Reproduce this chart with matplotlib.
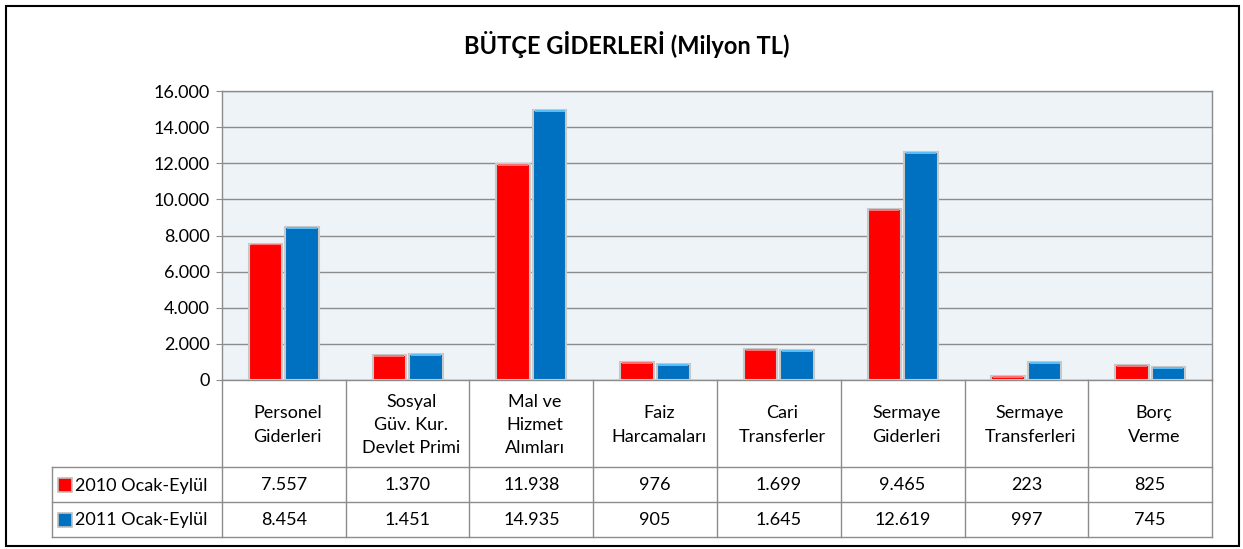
import matplotlib.pyplot as plt
import matplotlib.transforms as mtransforms
from matplotlib.patches import Rectangle
from matplotlib.lines import Line2D

plt.rcParams['font.family'] = ['Lato', 'DejaVu Sans']

categories = ["Personel\nGiderleri", "Sosyal\nGüv. Kur.\nDevlet Primi", "Mal ve\nHizmet\nAlımları",
              "Faiz\nHarcamaları", "Cari\nTransferler", "Sermaye\nGiderleri",
              "Sermaye\nTransferleri", "Borç\nVerme"]
series_names = ["2010 Ocak-Eylül", "2011 Ocak-Eylül"]
values_2010 = [7557, 1370, 11938, 976, 1699, 9465, 223, 825]
values_2011 = [8454, 1451, 14935, 905, 1645, 12619, 997, 745]
yticks = [0, 2000, 4000, 6000, 8000, 10000, 12000, 14000, 16000]

colors = ["#FF0000", "#0070C0"]
highlights = ["#FF7070", "#5CBDF5"]
grid_c = "#8C8C8C"
fs = 13

W, H = 1243, 549
fig = plt.figure(figsize=(W / 100, H / 100), dpi=100)

def fx(px):
    return px / W

def fy(py):
    return 1 - py / H

def fmt(v):
    return f"{v:,}".replace(",", ".")

# plot area
left, right, top, base = 222, 1212, 91, 380
ax = fig.add_axes([fx(left), fy(base), fx(right - left), (base - top) / H])
ax.set_facecolor("#EEF3F8")
ax.set_xlim(-0.5, len(categories) - 0.5)
ax.set_ylim(0, 16000)
ax.set_yticks(yticks)
ax.set_yticklabels([fmt(v) for v in yticks], fontsize=fs)
ax.tick_params(axis='y', length=4, color=grid_c, pad=5)
ax.set_xticks([])
ax.grid(axis='y', color=grid_c, linewidth=1)
ax.set_axisbelow(True)
for s in ax.spines.values():
    s.set_color(grid_c)
    s.set_linewidth(1)

x = list(range(len(categories)))
bw = 0.27
off = 0.148
for vals, sign, c, hc in [(values_2010, -1, colors[0], highlights[0]),
                          (values_2011, 1, colors[1], highlights[1])]:
    pos = [i + sign * off for i in x]
    ax.bar(pos, vals, width=bw, color=c, edgecolor="#C8C8C8", linewidth=1.5, zorder=3)
    hl = [min(v, 110) for v in vals]
    ax.bar(pos, hl, width=bw * 0.9, bottom=[v - h for v, h in zip(vals, hl)],
           color=hc, linewidth=0, zorder=4)

# title
fig.text(fx(627), fy(45), "BÜTÇE GİDERLERİ (Milyon TL)", ha='center', va='center',
         fontsize=17, fontweight='bold')

# data table
trans = mtransforms.blended_transform_factory(ax.transData, fig.transFigure)
row_tops = [380, 467, 502, 537]
lab_left = 52

def hline(x0, x1, py):
    fig.add_artist(Line2D([fx(x0), fx(x1)], [fy(py), fy(py)], color=grid_c, lw=1))

def vline(px, y0, y1):
    fig.add_artist(Line2D([fx(px), fx(px)], [fy(y0), fy(y1)], color=grid_c, lw=1))

hline(lab_left, right, row_tops[1])
hline(lab_left, right, row_tops[2])
hline(lab_left, right, row_tops[3])
vline(lab_left, row_tops[1], row_tops[3])
n = len(categories)
for k in range(n + 1):
    px = left + (right - left) * k / n
    vline(px, row_tops[0], row_tops[3])

for i, cat in enumerate(categories):
    fig.text(i + 0.03, fy(425), cat, transform=trans, ha='center', va='center',
             fontsize=fs, linespacing=1.55, multialignment='center')
    fig.text(i, fy(485), fmt(values_2010[i]), transform=trans,
             ha='center', va='center', fontsize=fs)
    fig.text(i, fy(520), fmt(values_2011[i]), transform=trans,
             ha='center', va='center', fontsize=fs)

for r, name in enumerate(series_names):
    cy = (row_tops[r + 1] + row_tops[r + 2]) / 2
    fig.add_artist(Rectangle((fx(58), fy(cy + 7)), fx(14), 14 / H,
                             facecolor=colors[r], edgecolor="#BFBFBF", lw=1.2,
                             transform=fig.transFigure))
    fig.text(fx(75), fy(cy + 1), name, ha='left', va='center', fontsize=fs)

# outer border
fig.add_artist(Rectangle((fx(6), fy(546)), fx(1233), 540 / H, facecolor='none',
                         edgecolor='black', lw=1.5, transform=fig.transFigure))

fig.savefig("out.png", dpi=100)
